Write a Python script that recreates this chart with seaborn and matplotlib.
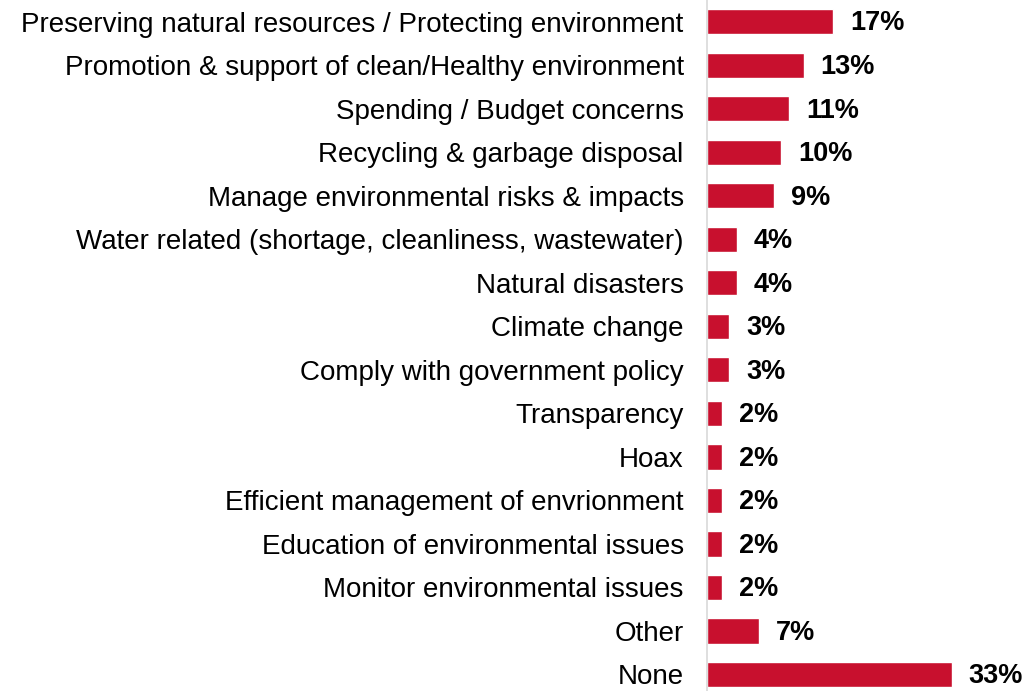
import matplotlib
matplotlib.use("Agg")
import matplotlib.pyplot as plt
import seaborn as sns
import pandas as pd

categories = [
    "Preserving natural resources / Protecting environment",
    "Promotion & support of clean/Healthy environment",
    "Spending / Budget concerns",
    "Recycling & garbage disposal",
    "Manage environmental risks & impacts",
    "Water related (shortage, cleanliness, wastewater)",
    "Natural disasters",
    "Climate change",
    "Comply with government policy",
    "Transparency",
    "Hoax",
    "Efficient management of envrionment",
    "Education of environmental issues",
    "Monitor environmental issues",
    "Other",
    "None",
]
values = [17, 13, 11, 10, 9, 4, 4, 3, 3, 2, 2, 2, 2, 2, 7, 33]

df = pd.DataFrame({"category": categories, "value": values})

sns.set_style("white")
plt.rcParams["font.family"] = ["Liberation Sans", "DejaVu Sans"]

fig = plt.figure(figsize=(10.25, 6.91), dpi=100)
ax = fig.add_axes([0.69, 0.0, 0.31, 1.0])

sns.barplot(data=df, x="value", y="category", orient="h", color="#C8102E",
            saturation=1, width=0.58, ax=ax)

ax.set_xlim(0, 42.9)
ax.set_ylim(15.38, -0.5)
for s in ["top", "right", "bottom"]:
    ax.spines[s].set_visible(False)
ax.spines["left"].set_color("#D9D9D9")
ax.spines["left"].set_linewidth(1.2)
ax.set_xticks([])
ax.set_xlabel("")
ax.set_ylabel("")
ax.tick_params(axis="y", length=0, pad=17, labelsize=20, labelcolor="black")

for i, v in enumerate(values):
    ax.text(v + 2.3, i + 0.04, f"{v}%", va="center", ha="left",
            fontsize=19.5, fontweight="bold", color="black")

fig.savefig("out.png", dpi=100)
